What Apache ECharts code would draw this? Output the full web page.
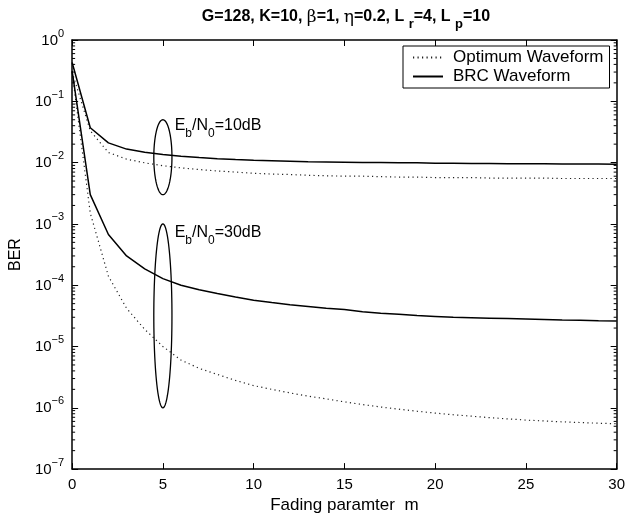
<!DOCTYPE html>
<html><head><meta charset="utf-8">
<script src="https://cdn.jsdelivr.net/npm/echarts@6/dist/echarts.min.js"></script>
<style>html,body{margin:0;padding:0;background:#fff}#c{width:628px;height:519px}</style>
</head><body><div id="c"></div>
<script>
// ---- data ----
const mValues = [0,1,2,3,4,5,6,7,8,9,10,11,12,13,14,15,16,17,18,19,20,21,22,23,24,25,26,27,28,29,30];
const opt10 = [0.30,0.033,0.0146,0.0114,0.0099,0.0089,0.0082,0.0077,0.0073,0.0070,0.0067,0.0065,0.0064,0.0062,0.0061,0.0060,0.0060,0.0059,0.0058,0.0058,0.0057,0.0057,0.0057,0.0056,0.0056,0.0056,0.0056,0.0055,0.0055,0.0055,0.0055];
const brc10 = [0.43,0.037,0.021,0.0166,0.0147,0.0135,0.0127,0.0121,0.0116,0.0112,0.0109,0.0107,0.0105,0.0103,0.0102,0.0101,0.0100,0.0100,0.0099,0.0099,0.0098,0.0098,0.0097,0.0097,0.0096,0.0096,0.0096,0.0095,0.0095,0.0095,0.0094];
const opt30 = [0.30,1.5e-3,1.4e-4,4.2e-5,1.9e-5,1.0e-5,6.0e-6,4.4e-6,3.5e-6,2.8e-6,2.3e-6,2.0e-6,1.75e-6,1.55e-6,1.4e-6,1.25e-6,1.13e-6,1.03e-6,9.5e-7,8.8e-7,8.2e-7,7.7e-7,7.3e-7,6.9e-7,6.6e-7,6.3e-7,6.1e-7,5.9e-7,5.75e-7,5.6e-7,5.5e-7];
const brc30 = [0.31,3.0e-3,6.7e-4,3.0e-4,1.85e-4,1.28e-4,1.0e-4,8.4e-5,7.3e-5,6.4e-5,5.7e-5,5.2e-5,4.8e-5,4.5e-5,4.2e-5,4.0e-5,3.7e-5,3.5e-5,3.35e-5,3.2e-5,3.1e-5,3.0e-5,2.95e-5,2.9e-5,2.85e-5,2.8e-5,2.75e-5,2.7e-5,2.67e-5,2.63e-5,2.6e-5];
const seriesNames = ['Optimum Waveform','BRC Waveform'];
const xTickValues = [0,5,10,15,20,25,30];
const yMin = 1e-7, yMax = 1;
// ellipse annotations: [center m, low BER, high BER, half width in m]
const ellipses = [[5, 0.003, 0.05, 0.5],[5, 1e-6, 1e-3, 0.5]];
// labels: [m, BER at top of text, snr dB]
const labelPos = [[5.65, 0.054, '10'],[5.65, 0.00098, '30']];
const minorTicks = [];
for (let e = -7; e < 0; e++) for (let k = 2; k <= 9; k++) minorTicks.push(k * Math.pow(10, e));

// ---- chart ----
const FONT = '"Liberation Sans", Arial, Helvetica, sans-serif';
const chart = echarts.init(document.getElementById('c'), null, {renderer:'canvas'});
const pairs = arr => mValues.map((m, i) => [m, arr[i]]);
const fmtExp = v => { const e = Math.round(Math.log10(v)); return e < 0 ? '\u2212' + (-e) : String(e); };
const supRich = {
  b: {fontSize:15, lineHeight:16, fontFamily:FONT, color:'#000', verticalAlign:'bottom'},
  s: {fontSize:11, lineHeight:11, fontFamily:FONT, color:'#000', verticalAlign:'bottom', padding:[0,0,9,0]}
};
const axisLineStyle = {color:'#000', width:1.5};
const tickStyle = {color:'#000', width:1};
const dotted = [1.2, 3.3];

const option = {
  animation: false,
  backgroundColor: '#fff',
  title: {
    left: 341, top: 4, textAlign: 'center',
    text: '{m|G=128, K=10, }{g|\u03b2}{m|=1, }{g|\u03b7}{m|=0.2, L }{s|r}{m|=4, L }{s|p}{m|=10}',
    textStyle: {
      rich: {
        m: {fontSize:16, fontWeight:'bold', fontFamily:FONT, color:'#000', lineHeight:18, verticalAlign:'top'},
        g: {fontSize:17, fontWeight:'normal', fontFamily:'"DejaVu Serif", serif', color:'#000', lineHeight:18, verticalAlign:'top'},
        s: {fontSize:13, fontWeight:'bold', fontFamily:FONT, color:'#000', lineHeight:13, verticalAlign:'top', padding:[9,0,0,0]}
      }
    }
  },
  legend: {
    data: seriesNames,
    orient: 'vertical', left: 403, top: 46,
    backgroundColor: '#fff', borderColor: '#000', borderWidth: 1, borderRadius: 0,
    padding: [3, 6, 3, 9],
    itemWidth: 30, itemHeight: 14, itemGap: 2,
    itemStyle: {opacity: 0, borderWidth: 0},
    textStyle: {fontSize:17, fontFamily:FONT, color:'#000', padding:[0,0,0,5]}
  },
  grid: {left:67, right:8, top:40, bottom:44, containLabel:false},
  xAxis: [{
    type:'value', min:0, max:30, interval:5, position:'bottom',
    axisLine:{show:true, onZero:false, lineStyle:axisLineStyle},
    axisTick:{show:true, inside:true, length:6, lineStyle:tickStyle},
    splitLine:{show:false},
    axisLabel:{fontSize:15, fontFamily:FONT, color:'#000', margin:8,
      formatter: v => xTickValues.indexOf(v) >= 0 ? String(v) : ''},
    name:'Fading paramter  m', nameLocation:'middle', nameGap:22,
    nameTextStyle:{fontSize:17, fontFamily:FONT, color:'#000'}
  },{
    type:'value', min:0, max:30, interval:5, position:'top',
    axisLine:{show:true, onZero:false, lineStyle:axisLineStyle},
    axisTick:{show:true, inside:true, length:6, lineStyle:tickStyle},
    splitLine:{show:false}, axisLabel:{show:false}
  }],
  yAxis: [{
    type:'log', logBase:10, min:yMin, max:yMax, position:'left',
    axisLine:{show:true, onZero:false, lineStyle:axisLineStyle},
    axisTick:{show:true, inside:true, length:6, lineStyle:tickStyle},
    minorTick:{show:false}, splitLine:{show:false},
    axisLabel:{margin:8, formatter: v => '{b|10}{s|' + fmtExp(v) + '}', rich: supRich},
    name:'BER', nameLocation:'middle', nameGap:48,
    nameTextStyle:{fontSize:16, fontFamily:FONT, color:'#000'}
  },{
    type:'log', logBase:10, min:yMin, max:yMax, position:'right',
    axisLine:{show:true, onZero:false, lineStyle:axisLineStyle},
    axisTick:{show:true, inside:true, length:6, lineStyle:tickStyle},
    splitLine:{show:false}, axisLabel:{show:false}
  }],
  series: [
    {name:seriesNames[0], type:'line', data:pairs(opt10), symbol:'none', showSymbol:false,
     lineStyle:{color:'#222', width:1.2, type:dotted}, itemStyle:{color:'#222'}},
    {name:seriesNames[1], type:'line', data:pairs(brc10), symbol:'none', showSymbol:false,
     lineStyle:{color:'#000', width:1.5, type:'solid'}, itemStyle:{color:'#000'}},
    {name:seriesNames[0], type:'line', data:pairs(opt30), symbol:'none', showSymbol:false,
     lineStyle:{color:'#222', width:1.2, type:dotted}, itemStyle:{color:'#222'}},
    {name:seriesNames[1], type:'line', data:pairs(brc30), symbol:'none', showSymbol:false,
     lineStyle:{color:'#000', width:1.5, type:'solid'}, itemStyle:{color:'#000'}},
    {type:'custom', name:'minorTicks', silent:true, z:5,
     data: minorTicks.map(v => [0, v]),
     renderItem: (params, api) => {
       const v = api.value(1);
       const p = api.coord([0, v]), q = api.coord([30, v]);
       return {type:'group', children:[
         {type:'line', shape:{x1:p[0], y1:p[1], x2:p[0]+3, y2:p[1]}, style:{stroke:'#000', lineWidth:1}},
         {type:'line', shape:{x1:q[0], y1:q[1], x2:q[0]-3, y2:q[1]}, style:{stroke:'#000', lineWidth:1}}
       ]};
     }},
    {type:'custom', name:'ellipses', silent:true, z:6,
     data: ellipses,
     renderItem: (params, api) => {
       const c1 = api.coord([api.value(0) - api.value(3), api.value(2)]);
       const c2 = api.coord([api.value(0) + api.value(3), api.value(1)]);
       const cx = (c1[0] + c2[0]) / 2, cy = (c1[1] + c2[1]) / 2;
       const rx = Math.abs(c2[0] - c1[0]) / 2, ry = Math.abs(c2[1] - c1[1]) / 2;
       const pts = [];
       for (let i = 0; i < 96; i++) { const t = i / 96 * Math.PI * 2; pts.push([cx + rx * Math.cos(t), cy + ry * Math.sin(t)]); }
       return {type:'polygon', shape:{points:pts}, style:{fill:null, stroke:'#000', lineWidth:1.3}};
     }},
    {type:'custom', name:'labels', silent:true, z:7,
     data: labelPos.map(d => [d[0], d[1]]),
     renderItem: (params, api) => {
       const p = api.coord([api.value(0), api.value(1)]);
       const db = labelPos[params.dataIndex][2];
       return {type:'text', x:p[0], y:p[1], style:{
         text:'{m|E}{s|b}{m|/N}{s|0}{m|=' + db + 'dB}',
         align:'left', verticalAlign:'top',
         rich:{
           m:{fontSize:16, fontFamily:FONT, fill:'#000', color:'#000', lineHeight:18, verticalAlign:'top'},
           s:{fontSize:12, fontFamily:FONT, fill:'#000', color:'#000', lineHeight:12, verticalAlign:'top', padding:[10,0,0,0]}
         }
       }};
     }}
  ]
};
chart.setOption(option);
</script>
</body></html>
